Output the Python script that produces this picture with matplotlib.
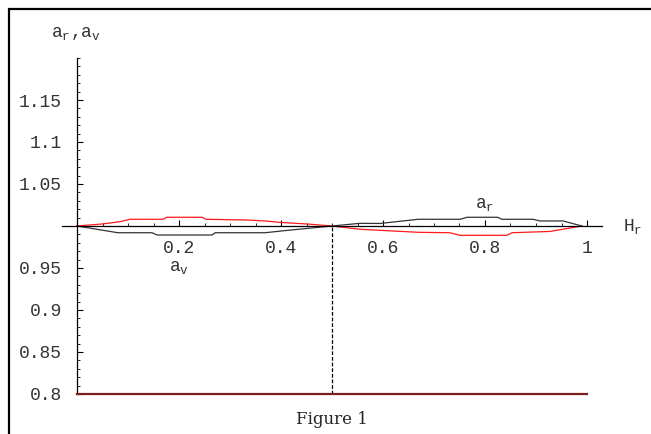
import matplotlib
matplotlib.use("Agg")
import matplotlib.pyplot as plt
from matplotlib.patches import Rectangle
from matplotlib.ticker import MultipleLocator, FixedLocator

plt.rcParams['font.family'] = ['Liberation Mono', 'DejaVu Sans Mono']
plt.rcParams['mathtext.fontset'] = 'custom'
plt.rcParams['mathtext.tt'] = 'Liberation Mono'
plt.rcParams['mathtext.rm'] = 'Liberation Mono'

# curve a_v (red): above 1 for H_r < 0.5, below after
red_x = [0.0, 0.049, 0.084, 0.104, 0.169, 0.176, 0.245, 0.253, 0.335, 0.369, 0.40, 0.451, 0.5,
         0.555, 0.669, 0.731, 0.751, 0.843, 0.853, 0.927, 0.99]
red_y = [1.0, 1.0024, 1.0051, 1.0080, 1.0080, 1.0104, 1.0104, 1.0080, 1.0071, 1.0060, 1.0042, 1.0024, 1.0,
         0.9961, 0.9925, 0.9920, 0.9889, 0.9889, 0.9920, 0.9935, 1.0]

# curve a_r (black): mirror behaviour
blk_x = [0.0, 0.080, 0.147, 0.157, 0.265, 0.271, 0.369, 0.414, 0.5,
         0.555, 0.594, 0.669, 0.751, 0.765, 0.825, 0.833, 0.894, 0.908, 0.953, 0.99]
blk_y = [1.0, 0.9920, 0.9920, 0.9893, 0.9893, 0.9920, 0.9920, 0.9949, 1.0,
         1.0032, 1.0030, 1.0080, 1.0080, 1.0104, 1.0104, 1.0080, 1.0080, 1.0060, 1.0060, 1.0]

floor_x = [0.0, 1.0]
floor_y = [0.8, 0.8]

xticks = [0.2, 0.4, 0.6, 0.8, 1.0]
xlabels = ["0.2", "0.4", "0.6", "0.8", "1"]
yticks = [0.8, 0.85, 0.9, 0.95, 1.05, 1.1, 1.15]
ylabels = ["0.8", "0.85", "0.9", "0.95", "1.05", "1.1", "1.15"]

W, H = 651, 434
fig = plt.figure(figsize=(6.51, 4.34), dpi=100)
x0px, ppu = 77, 510
left = x0px - 0.03 * ppu
ax = fig.add_axes([left / W, 40 / H, 1.06 * ppu / W, 336 / H])
ax.set_xlim(-0.03, 1.03)
ax.set_ylim(0.8, 1.2)

ax.plot(red_x, red_y, color="#ff1a1a", lw=0.9)
ax.plot(blk_x, blk_y, color="#333333", lw=0.9)
ax.plot(floor_x, floor_y, color="#7a1f1f", lw=1.6, clip_on=False, zorder=3)
ax.plot([0.5, 0.5], [0.8, 1.0], color="black", lw=0.9, linestyle=(0, (3, 1.5)))

for s in ['top', 'right']:
    ax.spines[s].set_visible(False)
ax.spines['left'].set_position(('data', 0.0))
ax.spines['bottom'].set_position(('data', 1.0))
ax.spines['left'].set_linewidth(0.9)
ax.spines['bottom'].set_linewidth(0.9)

ax.xaxis.set_major_locator(FixedLocator(xticks))
ax.set_xticklabels(xlabels)
ax.xaxis.set_minor_locator(MultipleLocator(0.05))
ax.yaxis.set_major_locator(FixedLocator(yticks))
ax.set_yticklabels(ylabels)
ax.yaxis.set_minor_locator(FixedLocator([0.8 + 0.01 * i for i in range(41)]))

ax.tick_params(axis='both', which='major', direction='in', length=4, width=0.8,
               labelsize=13, colors='black', labelcolor='#333333')
ax.tick_params(axis='both', which='minor', direction='in', length=2, width=0.6)
ax.tick_params(axis='x', which='major', pad=10)
ax.tick_params(axis='y', which='major', pad=11)

ax.text(0.80, 1.026, r"$\mathtt{a}_\mathtt{r}$", fontsize=13, ha='center', va='center', color='#333333')
ax.text(0.20, 0.95, r"$\mathtt{a}_\mathtt{v}$", fontsize=13, ha='center', va='center', color='#333333')
ax.text(1.07, 1.0, r"$\mathtt{H}_\mathtt{r}$", fontsize=13, ha='left', va='center',
        clip_on=False, color='#333333')

fig.text(76 / W, 1 - 33 / H, r"$\mathtt{a}_\mathtt{r}$,$\mathtt{a}_\mathtt{v}$", fontsize=13,
         ha='center', va='center', color='#333333')
fig.text(332 / W, 1 - 419 / H, "Figure 1", fontsize=12, family='DejaVu Serif',
         ha='center', va='center', color='#222222')

# page frame: left and top edges only are visible
fig.patches.append(Rectangle((8.5 / W, -0.05), 1.0, 1.05 - 8.5 / H,
                             transform=fig.transFigure, fill=False, lw=1.6,
                             edgecolor='black'))

fig.savefig("out.png", dpi=100)
